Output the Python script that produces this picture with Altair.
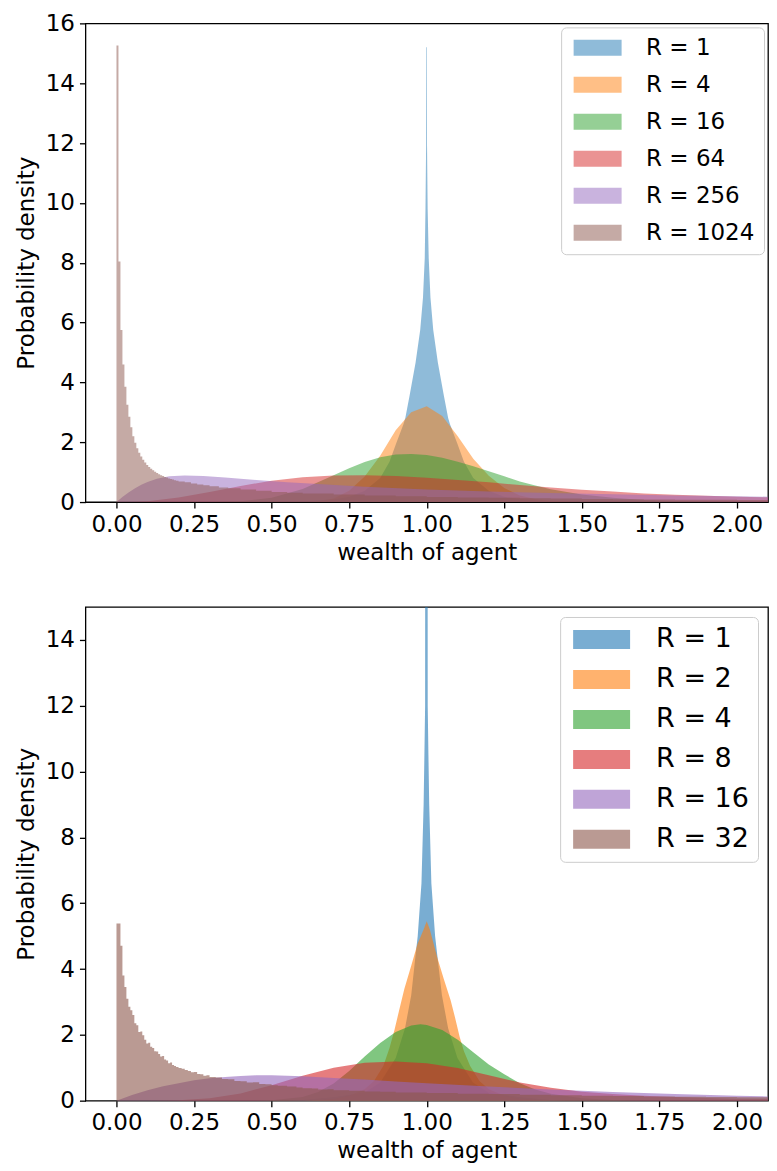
import altair as alt
import pandas as pd

FONT = "DejaVu Sans"
COLORS = ["#1f77b4", "#ff7f0e", "#2ca02c", "#d62728", "#9467bd", "#8c564b"]

TOP_LABELS = ["R = 1", "R = 4", "R = 16", "R = 64", "R = 256", "R = 1024"]
BOT_LABELS = ["R = 1", "R = 2", "R = 4", "R = 8", "R = 16", "R = 32"]
X_TICKS = [0.0, 0.25, 0.5, 0.75, 1.0, 1.25, 1.5, 1.75, 2.0]
TOP_Y_TICKS = [0, 2, 4, 6, 8, 10, 12, 14, 16]
BOT_Y_TICKS = [0, 2, 4, 6, 8, 10, 12, 14]
X_LABEL = "wealth of agent"
Y_LABEL = "Probability density"

# histogram bin left edges near zero (bin width ~0.0064)
BIN_EDGES = [0.0, 0.0064, 0.0128, 0.0192, 0.0256, 0.032, 0.0384, 0.0448, 0.0512, 0.0576,
             0.064, 0.0704, 0.0768, 0.0832, 0.0896, 0.096, 0.1024, 0.1088, 0.1152, 0.1216,
             0.128, 0.1344, 0.1408, 0.1472, 0.1536, 0.16, 0.1664, 0.1728, 0.1792, 0.1856, 0.192]

# ---------------- top panel ----------------
top_r1_x = [0.5, 0.6, 0.7, 0.75, 0.8, 0.85, 0.88, 0.902, 0.925, 0.931,
            0.945, 0.964, 0.979, 0.988, 0.9936, 0.996, 0.998, 0.9985,
            1.0005, 1.001, 1.003, 1.0064, 1.012, 1.021, 1.036, 1.055, 1.069, 1.075,
            1.098, 1.12, 1.15, 1.2, 1.25, 1.3, 1.4, 1.5]
top_r1_y = [0.0, 0.02, 0.09, 0.18, 0.38, 0.8, 1.35, 1.97, 2.6, 2.81,
            3.57, 4.66, 5.75, 6.84, 8.15, 9.8, 11.9, 15.2,
            15.2, 11.9, 9.8, 8.15, 6.84, 5.75, 4.66, 3.57, 2.81, 2.6,
            1.97, 1.35, 0.8, 0.38, 0.18, 0.09, 0.02, 0.0]

top_r4_x = [0.6, 0.65, 0.7, 0.75, 0.8, 0.85, 0.9, 0.95, 1.0, 1.05, 1.1, 1.15, 1.2,
            1.25, 1.3, 1.35, 1.4, 1.5]
top_r4_y = [0.0, 0.03, 0.12, 0.38, 0.85, 1.55, 2.4, 3.0, 3.2, 2.88, 2.2, 1.45, 0.88,
            0.47, 0.22, 0.1, 0.04, 0.0]

top_r16_x = [0.3, 0.4, 0.5, 0.6, 0.7, 0.75, 0.8, 0.85, 0.9, 0.95, 1.0, 1.05, 1.1,
             1.15, 1.2, 1.25, 1.3, 1.35, 1.4, 1.5, 1.6, 1.7, 1.8, 1.9, 2.0, 2.1]
top_r16_y = [0.0, 0.03, 0.14, 0.44, 0.9, 1.13, 1.34, 1.5, 1.59, 1.61, 1.57, 1.48, 1.35,
             1.2, 1.03, 0.86, 0.69, 0.55, 0.43, 0.25, 0.14, 0.07, 0.035, 0.015, 0.006, 0.0]

top_r64_x = [0.0, 0.05, 0.1, 0.2, 0.3, 0.4, 0.5, 0.6, 0.7, 0.8, 0.9, 1.0, 1.1, 1.2,
             1.3, 1.4, 1.5, 1.6, 1.7, 1.8, 1.9, 2.0, 2.1, 2.2]
top_r64_y = [0.0, 0.005, 0.03, 0.15, 0.34, 0.54, 0.71, 0.83, 0.89, 0.9, 0.87, 0.81, 0.74, 0.66,
             0.57, 0.49, 0.41, 0.35, 0.29, 0.24, 0.21, 0.18, 0.16, 0.14]

top_r256_x = [0.0, 0.02, 0.04, 0.06, 0.08, 0.1, 0.13, 0.17, 0.22, 0.28, 0.35, 0.45,
              0.55, 0.65, 0.8, 1.0, 1.2, 1.4, 1.6, 1.8, 2.0, 2.1, 2.2]
top_r256_y = [0.0, 0.18, 0.33, 0.46, 0.58, 0.67, 0.78, 0.86, 0.89, 0.87, 0.82, 0.74,
              0.66, 0.6, 0.51, 0.42, 0.35, 0.3, 0.26, 0.22, 0.19, 0.18, 0.17]

top_r1024_bins = [15.26, 8.04, 5.75, 4.6, 3.85, 3.25, 2.85, 2.5, 2.2, 1.98,
                  1.8, 1.65, 1.52, 1.41, 1.32, 1.24, 1.17, 1.11, 1.06, 1.01,
                  0.97, 0.93, 0.9, 0.87, 0.84, 0.82, 0.79, 0.77, 0.75, 0.73, 0.71]
top_r1024_tail_x = [0.2, 0.22, 0.24, 0.26, 0.28, 0.3, 0.33, 0.36, 0.4, 0.45,
                    0.5, 0.55, 0.6, 0.7, 0.8, 0.9, 1.0, 1.1, 1.2, 1.3,
                    1.4, 1.5, 1.6, 1.7, 1.8, 1.9, 2.0, 2.1, 2.2]
top_r1024_tail_y = [0.69, 0.66, 0.62, 0.59, 0.56, 0.53, 0.49, 0.46, 0.42, 0.38,
                    0.34, 0.31, 0.29, 0.25, 0.22, 0.19, 0.17, 0.155, 0.14, 0.125,
                    0.115, 0.105, 0.095, 0.088, 0.08, 0.075, 0.07, 0.065, 0.06]

# ---------------- bottom panel ----------------
bot_r1_x = [0.55, 0.6, 0.7, 0.8, 0.85, 0.9, 0.93, 0.95, 0.965, 0.971,
            0.983, 0.99, 0.9925, 0.9948, 0.9952, 1.0028, 1.0032, 1.0055, 1.008, 1.015,
            1.027, 1.033, 1.049, 1.069, 1.099, 1.149, 1.199, 1.3, 1.4, 1.45]
bot_r1_y = [0.0, 0.02, 0.1, 0.25, 0.55, 1.3, 2.2, 3.2, 4.5, 5.0,
            6.6, 9.0, 10.5, 12.0, 20.0, 20.0, 12.0, 10.5, 9.0, 6.6,
            5.0, 4.5, 3.2, 2.2, 1.3, 0.55, 0.25, 0.1, 0.02, 0.0]

bot_r2_x = [0.6, 0.7, 0.75, 0.8, 0.83, 0.86, 0.88, 0.896, 0.91, 0.928,
            0.95, 0.97, 0.99, 1.0, 1.01, 1.034, 1.055, 1.077, 1.092, 1.106,
            1.12, 1.14, 1.17, 1.2, 1.25, 1.3, 1.4, 1.5]
bot_r2_y = [0.0, 0.05, 0.15, 0.35, 0.6, 1.05, 1.6, 2.15, 2.7, 3.4,
            4.1, 4.75, 5.2, 5.45, 5.2, 4.35, 3.7, 3.05, 2.5, 1.94,
            1.5, 1.05, 0.6, 0.35, 0.15, 0.06, 0.01, 0.0]

bot_r4_x = [0.45, 0.5, 0.6, 0.65, 0.7, 0.75, 0.8, 0.85, 0.9, 0.95, 0.98, 1.0, 1.05,
            1.1, 1.15, 1.2, 1.25, 1.3, 1.35, 1.4, 1.5, 1.6, 1.7]
bot_r4_y = [0.0, 0.01, 0.11, 0.26, 0.52, 0.9, 1.34, 1.75, 2.09, 2.28, 2.32, 2.3, 2.15,
            1.85, 1.47, 1.1, 0.8, 0.53, 0.34, 0.21, 0.07, 0.02, 0.0]

bot_r8_x = [0.1, 0.2, 0.3, 0.4, 0.5, 0.6, 0.7, 0.8, 0.9, 1.0, 1.1, 1.2, 1.3, 1.4,
            1.5, 1.6, 1.7, 1.8, 1.9, 2.0, 2.1, 2.2]
bot_r8_y = [0.0, 0.01, 0.07, 0.22, 0.47, 0.76, 1.0, 1.15, 1.19, 1.14, 0.99, 0.77, 0.55, 0.39,
            0.27, 0.2, 0.15, 0.11, 0.08, 0.06, 0.05, 0.04]

bot_r16_x = [0.0, 0.05, 0.1, 0.15, 0.2, 0.25, 0.3, 0.35, 0.4, 0.45, 0.5, 0.55, 0.6,
             0.7, 0.8, 0.9, 1.0, 1.2, 1.4, 1.6, 1.8, 2.0, 2.1, 2.2]
bot_r16_y = [0.0, 0.17, 0.32, 0.44, 0.53, 0.62, 0.68, 0.72, 0.75, 0.77, 0.77, 0.76, 0.74,
             0.69, 0.64, 0.58, 0.53, 0.43, 0.34, 0.26, 0.2, 0.15, 0.13, 0.11]

bot_r32_bins = [5.38, 5.38, 4.71, 3.8, 3.45, 3.1, 2.85, 2.75, 2.6, 2.35,
                2.29, 2.09, 2.1, 1.99, 1.85, 1.74, 1.76, 1.64, 1.6, 1.5,
                1.49, 1.42, 1.34, 1.36, 1.25, 1.22, 1.14, 1.16, 1.08, 1.05, 1.02]
bot_r32_tail_x = [0.2, 0.21, 0.22, 0.23, 0.24, 0.25, 0.26, 0.27, 0.28, 0.29, 0.3,
                  0.32, 0.34, 0.36, 0.38, 0.4, 0.42, 0.44, 0.46, 0.48, 0.5,
                  0.52, 0.55, 0.58, 0.6, 0.63, 0.65, 0.68, 0.7,
                  0.75, 0.8, 0.85, 0.9, 0.95, 1.0,
                  1.1, 1.2, 1.3, 1.4, 1.5, 1.6, 1.7, 1.8, 1.9, 2.0, 2.1, 2.2]
bot_r32_tail_y = [0.99, 0.97, 0.93, 0.9, 0.86, 0.87, 0.81, 0.8, 0.76, 0.77, 0.72,
                  0.7, 0.66, 0.65, 0.6, 0.59, 0.55, 0.56, 0.51, 0.5, 0.47,
                  0.45, 0.43, 0.4, 0.38, 0.37, 0.34, 0.35, 0.32,
                  0.3, 0.28, 0.27, 0.25, 0.245, 0.23,
                  0.21, 0.2, 0.18, 0.165, 0.15, 0.14, 0.13, 0.12, 0.11, 0.1, 0.09, 0.085]


def make_axis_x():
    return alt.Axis(values=X_TICKS, format=".2f", title=X_LABEL, grid=False, domain=False,
                    tickSize=6, tickWidth=1.3, tickColor="black", labelPadding=5,
                    titlePadding=5, labelFontSize=23, titleFontSize=23, labelFont=FONT,
                    titleFont=FONT, labelColor="black", titleColor="black",
                    titleFontWeight="normal", labelFlush=False, labelOverlap=False)


def make_axis_y(ticks):
    return alt.Axis(values=ticks, format="d", title=Y_LABEL, grid=False, domain=False,
                    tickSize=6, tickWidth=1.3, tickColor="black", labelPadding=5,
                    titlePadding=7, labelFontSize=23, titleFontSize=23, labelFont=FONT,
                    titleFont=FONT, labelColor="black", titleColor="black",
                    titleFontWeight="normal", labelFlush=False, labelOverlap=False)


def make_legend(font_size, r_size, label_offset, row_pad, pad, offset, opacity):
    return alt.Legend(title=None, orient="top-right", offset=offset,
                      symbolType="M-1,-1H5V1H-1Z", symbolSize=r_size,
                      symbolStrokeWidth=0, symbolOpacity=opacity,
                      labelFontSize=font_size, labelFont=FONT, labelColor="black",
                      labelOffset=label_offset, labelLimit=400, rowPadding=row_pad,
                      padding=pad, cornerRadius=5, strokeColor="#cccccc",
                      fillColor="rgba(255,255,255,0.8)")


def panel(series, labels, y_dom, y_ticks, opacity, legend, width, height):
    layers = []
    for label, xs, ys, interp in series:
        assert len(xs) == len(ys), label
        df = pd.DataFrame({"x": xs, "d": ys, "series": label})
        layers.append(
            alt.Chart(df).mark_area(interpolate=interp, opacity=opacity, clip=True).encode(
                x=alt.X("x:Q", scale=alt.Scale(domain=[-0.1, 2.1], nice=False, zero=False),
                        axis=make_axis_x()),
                y=alt.Y("d:Q", stack=None, scale=alt.Scale(domain=y_dom, nice=False),
                        axis=make_axis_y(y_ticks)),
                color=alt.Color("series:N", sort=labels,
                                scale=alt.Scale(domain=labels, range=COLORS),
                                legend=legend),
            )
        )
    return alt.layer(*layers).properties(width=width, height=height)


top_series = [
    (TOP_LABELS[0], top_r1_x, top_r1_y, "linear"),
    (TOP_LABELS[1], top_r4_x, top_r4_y, "linear"),
    (TOP_LABELS[2], top_r16_x, top_r16_y, "linear"),
    (TOP_LABELS[3], top_r64_x, top_r64_y, "linear"),
    (TOP_LABELS[4], top_r256_x, top_r256_y, "linear"),
    (TOP_LABELS[5], BIN_EDGES + top_r1024_tail_x, top_r1024_bins + top_r1024_tail_y, "step-after"),
]
bot_series = [
    (BOT_LABELS[0], bot_r1_x, bot_r1_y, "linear"),
    (BOT_LABELS[1], bot_r2_x, bot_r2_y, "linear"),
    (BOT_LABELS[2], bot_r4_x, bot_r4_y, "linear"),
    (BOT_LABELS[3], bot_r8_x, bot_r8_y, "linear"),
    (BOT_LABELS[4], bot_r16_x, bot_r16_y, "linear"),
    (BOT_LABELS[5], BIN_EDGES + bot_r32_tail_x, bot_r32_bins + bot_r32_tail_y, "step-after"),
]

PLOT_W = 683
top = panel(top_series, TOP_LABELS, [0, 16], TOP_Y_TICKS, 0.5,
            make_legend(23, 256, 53, 13, 9, 4, 0.5), PLOT_W, 479)
bottom = panel(bot_series, BOT_LABELS, [0, 15], BOT_Y_TICKS, 0.6,
               make_legend(27, 361, 60, 12, 9, 10, 0.6), PLOT_W, 494)

chart = (
    alt.vconcat(top, bottom, spacing=41)
    .resolve_scale(color="independent", x="independent", y="independent")
    .resolve_legend(color="independent")
    .properties(padding={"left": 6.5, "top": 3, "right": 0, "bottom": 0}, background="white")
    .configure_view(stroke="black", strokeWidth=1.3)
)

chart.save("out.html", embed_options={"renderer": "svg", "actions": False})
